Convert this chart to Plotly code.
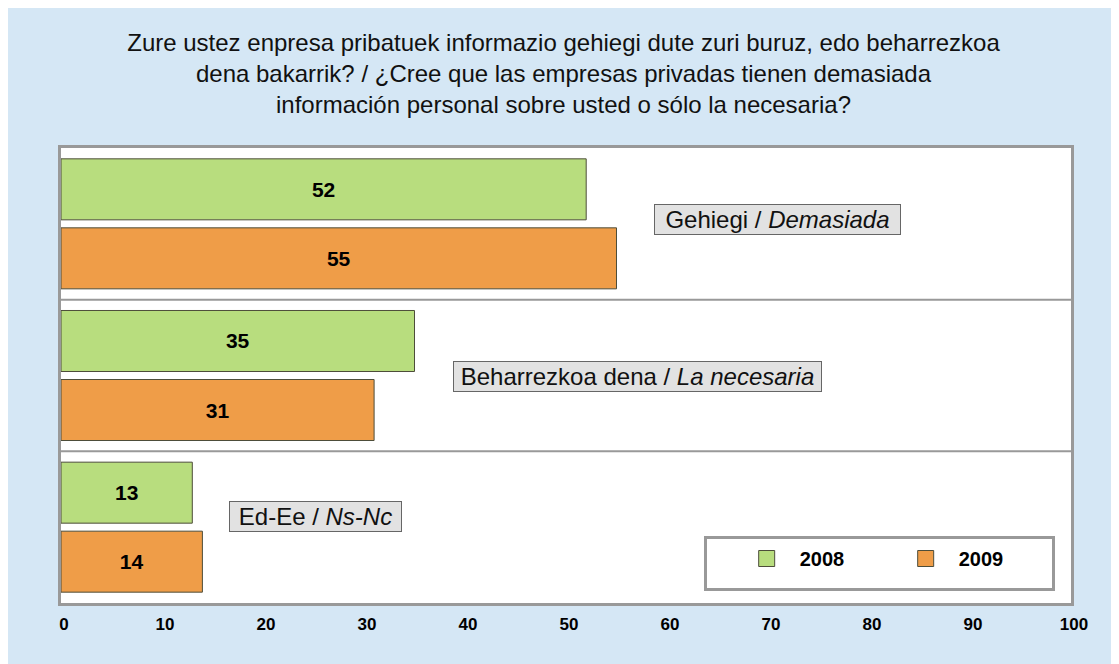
import plotly.graph_objects as go

# ---- data ----
categories = ["Gehiegi / Demasiada", "Beharrezkoa dena / La necesaria", "Ed-Ee / Ns-Nc"]
label_eu = ["Gehiegi", "Beharrezkoa dena", "Ed-Ee"]
label_es = ["Demasiada", "La necesaria", "Ns-Nc"]
values_2008 = [52, 35, 13]
values_2009 = [55, 31, 14]
series_names = ["2008", "2009"]
x_ticks = [0, 10, 20, 30, 40, 50, 60, 70, 80, 90, 100]

title_text = ("Zure ustez enpresa pribatuek informazio gehiegi dute zuri buruz, edo beharrezkoa<br>"
              "dena bakarrik? / ¿Cree que las empresas privadas tienen demasiada<br>"
              "información personal sobre usted o sólo la necesaria?")

# ---- styles / layout helpers ----
GREEN = "#b8dd7e"
ORANGE = "#ef9d48"
BG = "#d5e7f5"
FONT = "Liberation Sans, Arial, sans-serif"
label_x = [58.7, 38.8, 16.6]      # left edge of category label boxes (axis units)
label_shift = [4, -1, 11]         # vertical pixel shift of label boxes
label_w = [243, 365, 169]         # label box inner widths (px)

W, H = 1111, 656
ML, MR, MT, MB = 53, 48, 140, 61
PW, PH = W - ML - MR, H - MT - MB

fig = go.Figure()
for name, vals, col in [(series_names[0], values_2008, GREEN), (series_names[1], values_2009, ORANGE)]:
    fig.add_trace(go.Bar(
        y=categories, x=vals, orientation="h", name=name,
        marker=dict(color=col, line=dict(color="#4d4d3a", width=1)),
        texttemplate="%{x}", textposition="inside", insidetextanchor="middle",
        textfont=dict(family=FONT, size=21, color="black", weight="bold"),
        showlegend=False, cliponaxis=False,
    ))
    # legend proxy with larger square symbol
    fig.add_trace(go.Scatter(
        x=[None], y=[None], mode="markers", name=name,
        marker=dict(symbol="square", size=16, color=col, line=dict(color="#4d4d3a", width=1)),
        showlegend=True,
    ))

annotations = []
for i, cat in enumerate(categories):
    annotations.append(dict(
        x=label_x[i], y=cat, xref="x", yref="y", xanchor="left", yanchor="middle",
        yshift=label_shift[i], width=label_w[i],
        text=f"{label_eu[i]} / <i>{label_es[i]}</i>", showarrow=False,
        font=dict(family=FONT, size=24, color="#111"),
        bgcolor="#e2e2e2", bordercolor="#666", borderwidth=1, borderpad=1,
    ))

shapes = []
for yv in [0.5, 1.5]:
    shapes.append(dict(type="line", xref="paper", x0=0, x1=1, yref="y", y0=yv, y1=yv,
                       line=dict(color="#999", width=2), layer="above"))

fig.update_layout(
    width=W, height=H,
    margin=dict(l=ML, r=MR, t=MT, b=MB),
    paper_bgcolor=BG, plot_bgcolor="white",
    barmode="group", bargap=0.09, bargroupgap=0.116,
    title=dict(text=title_text, x=0.5, xref="container", xanchor="center",
               y=1 - 43 / H, yref="container", yanchor="middle",
               font=dict(family=FONT, size=24, color="#111")),
    xaxis=dict(range=[0, 100], tickvals=x_ticks, ticktext=[str(t) for t in x_ticks],
               showgrid=False, zeroline=False, ticks="",
               tickfont=dict(family=FONT, size=17, color="black", weight="bold"),
               showline=True, mirror=True, linecolor="#999", linewidth=3,
               ticklabelshift=3, ticklabelstandoff=4, fixedrange=True),
    yaxis=dict(type="category", categoryorder="array", categoryarray=categories,
               range=[2.5, -0.5], showticklabels=False, showgrid=False, zeroline=False,
               showline=True, mirror=True, linecolor="#999", linewidth=3, ticks=""),
    legend=dict(orientation="h", x=(1047 - ML) / PW, xanchor="right", y=(595 - 583) / PH, yanchor="bottom",
                bgcolor="white", bordercolor="#999", borderwidth=3,
                font=dict(family=FONT, size=20, color="black", weight="bold"),
                title=dict(text="\u00a0" * 2, side="left", font=dict(family=FONT, size=30)),
                entrywidth=88, entrywidthmode="pixels", itemsizing="trace", itemwidth=56),
    annotations=annotations, shapes=shapes,
)

fig.write_html("out.html")
